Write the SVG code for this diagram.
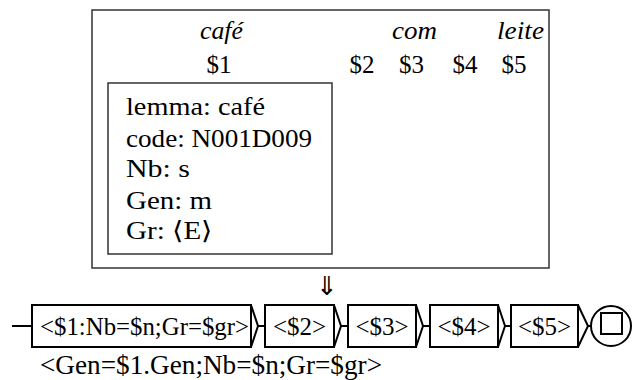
<svg xmlns="http://www.w3.org/2000/svg" width="634" height="380" viewBox="0 0 634 380">
<style>
text{font-family:'Liberation Serif','Times New Roman',serif;fill:#000}
.it{font-style:italic}
.frame{fill:none;stroke:#333;stroke-width:1.5}
.box{fill:#fff;stroke:#000;stroke-width:2}
.edge{fill:none;stroke:#000;stroke-width:2}
</style>
<rect width="634" height="380" fill="#fff"/>
<g id="sentence" font-size="25">
<rect class="frame" x="92" y="10" width="457" height="258"/>
<text class="it" x="200" y="39" textLength="43" lengthAdjust="spacingAndGlyphs">café</text>
<text class="it" x="392" y="39" textLength="45" lengthAdjust="spacingAndGlyphs">com</text>
<text class="it" x="497" y="39" textLength="47" lengthAdjust="spacingAndGlyphs">leite</text>
<text x="219" y="73" text-anchor="middle">$1</text>
<text x="362" y="73" text-anchor="middle">$2</text>
<text x="411.5" y="73" text-anchor="middle">$3</text>
<text x="465" y="73" text-anchor="middle">$4</text>
<text x="514" y="73" text-anchor="middle">$5</text>
</g>
<g id="features" font-size="25">
<rect class="frame" x="108" y="83" width="224" height="171"/>
<text x="126" y="115" textLength="139" lengthAdjust="spacingAndGlyphs">lemma: café</text>
<text x="126" y="147" textLength="186" lengthAdjust="spacingAndGlyphs">code: N001D009</text>
<text x="126" y="177" textLength="64" lengthAdjust="spacingAndGlyphs">Nb: s</text>
<text x="126" y="209" textLength="86" lengthAdjust="spacingAndGlyphs">Gen: m</text>
<text x="126" y="239" textLength="87" lengthAdjust="spacingAndGlyphs">Gr: ⟨E⟩</text>
</g>
<g id="arrow-down">
<text x="327" y="295" font-size="26" text-anchor="middle" style="font-family:'DejaVu Sans',sans-serif">⇓</text>
</g>
<g id="connectors">
<line class="edge" x1="12" y1="326" x2="32" y2="326"/>
<path class="edge" d="M251,305 L258,326 L251,347 M258,326 L265,326"/>
<path class="edge" d="M334,305 L341,326 L334,347 M341,326 L348,326"/>
<path class="edge" d="M416,305 L423,326 L416,347 M423,326 L430,326"/>
<path class="edge" d="M498,305 L505,326 L498,347 M505,326 L511,326"/>
<path class="edge" d="M578,305 L588,326 L578,347 M588,326 L591,326"/>
</g>
<g id="box1">
<rect class="box" x="32" y="305" width="219" height="42"/>
<text x="40" y="335" font-size="25" textLength="209" lengthAdjust="spacingAndGlyphs">&lt;$1:Nb=$n;Gr=$gr&gt;</text>
</g>
<g id="box2">
<rect class="box" x="265" y="305" width="69" height="42"/>
<text x="299.5" y="335" font-size="25" text-anchor="middle">&lt;$2&gt;</text>
</g>
<g id="box3">
<rect class="box" x="348" y="305" width="68" height="42"/>
<text x="382" y="335" font-size="25" text-anchor="middle">&lt;$3&gt;</text>
</g>
<g id="box4">
<rect class="box" x="430" y="305" width="68" height="42"/>
<text x="464" y="335" font-size="25" text-anchor="middle">&lt;$4&gt;</text>
</g>
<g id="box5">
<rect class="box" x="511" y="305" width="67" height="42"/>
<text x="544.5" y="335" font-size="25" text-anchor="middle">&lt;$5&gt;</text>
</g>
<g id="final">
<circle class="edge" cx="611" cy="326" r="20"/>
<rect class="edge" x="601" y="313" width="21" height="21"/>
</g>
<g id="output">
<text x="40" y="374" font-size="27" textLength="342" lengthAdjust="spacingAndGlyphs">&lt;Gen=$1.Gen;Nb=$n;Gr=$gr&gt;</text>
</g>
</svg>
